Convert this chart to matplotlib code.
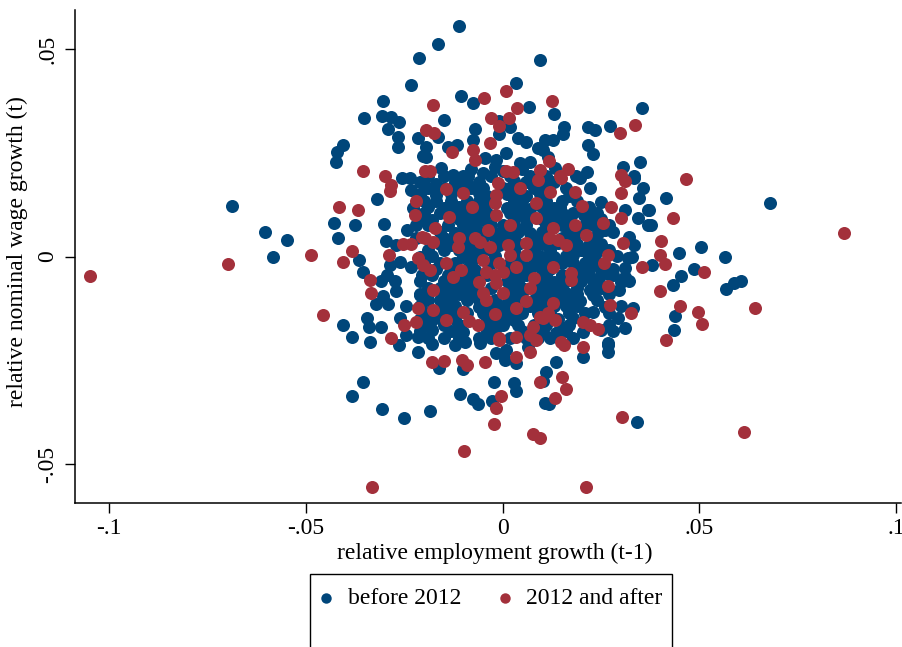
import numpy as np
import matplotlib
matplotlib.use("Agg")
import matplotlib.pyplot as plt
from matplotlib.patches import Rectangle

# (relative employment growth t-1, relative nominal wage growth t)
before_2012 = [
    (-0.0687, 0.0123), (-0.0603, 0.0060), (-0.0549, 0.0039), (-0.0585, 0.0000),
    (0.0416, 0.0141), (0.0680, 0.0129), (0.0373, 0.0113), (0.0378, 0.0076), (0.0505, 0.0023),
    (0.0448, 0.0008), (0.0566, -0.0002), (0.0380, -0.0020), (0.0486, -0.0030), (0.0454, -0.0046),
    (0.0434, -0.0068), (0.0568, -0.0079), (0.0589, -0.0064), (0.0606, -0.0060), (0.0439, -0.0142),
    (0.0437, -0.0177),
    (-0.0111, 0.0556), (-0.0164, 0.0513), (0.0096, 0.0474), (-0.0213, 0.0478), (-0.0233, 0.0414),
    (-0.0305, 0.0374), (-0.0353, 0.0334), (-0.0306, 0.0339), (-0.0285, 0.0337), (-0.0263, 0.0325),
    (-0.0291, 0.0307), (-0.0267, 0.0289), (-0.0215, 0.0285), (-0.0267, 0.0263), (-0.0202, 0.0243),
    (-0.0406, 0.0269), (-0.0422, 0.0253), (-0.0424, 0.0227), (-0.0257, 0.0190), (-0.0236, 0.0189),
    (0.0035, 0.0418), (-0.0107, 0.0386), (-0.0074, 0.0370), (0.0067, 0.0361), (-0.0150, 0.0329),
    (-0.0008, 0.0327), (0.0020, 0.0313), (-0.0010, 0.0296), (-0.0164, 0.0289), (-0.0071, 0.0307),
    (-0.0074, 0.0281), (-0.0196, 0.0265), (-0.0116, 0.0269), (-0.0139, 0.0265), (-0.0196, 0.0241),
    (-0.0046, 0.0237), (0.0039, 0.0285), (0.0060, 0.0277), (0.0090, 0.0261), (0.0009, 0.0249),
    (-0.0016, 0.0233), (0.0043, 0.0225), (0.0069, 0.0229), (-0.0156, 0.0213), (-0.0126, 0.0197),
    (-0.0088, 0.0193), (-0.0050, 0.0201), (-0.0020, 0.0217),
    (0.0130, 0.0343), (0.0355, 0.0357), (0.0273, 0.0315), (0.0155, 0.0312), (0.0153, 0.0296),
    (0.0218, 0.0313), (0.0234, 0.0304), (0.0218, 0.0269), (0.0229, 0.0247), (0.0128, 0.0281),
    (0.0107, 0.0281), (0.0102, 0.0257), (0.0115, 0.0241), (0.0132, 0.0213), (0.0187, 0.0193),
    (0.0214, 0.0203), (0.0350, 0.0227), (0.0306, 0.0215), (0.0333, 0.0193),
    (-0.0319, 0.0139), (-0.0232, 0.0161), (-0.0429, 0.0080), (-0.0376, 0.0076), (-0.0302, 0.0079),
    (-0.0228, 0.0117), (-0.0418, 0.0044), (-0.0297, 0.0038), (-0.0243, 0.0064), (-0.0270, 0.0028),
    (-0.0365, -0.0008), (-0.0356, -0.0036), (-0.0287, -0.0020), (-0.0262, -0.0014), (-0.0232, -0.0024),
    (-0.0206, -0.0044), (-0.0295, -0.0044), (-0.0308, -0.0060), (-0.0274, -0.0060), (-0.0270, -0.0084),
    (-0.0304, -0.0096), (-0.0321, -0.0115), (-0.0291, -0.0115), (-0.0245, -0.0120), (-0.0211, -0.0092),
    (-0.0407, -0.0165), (-0.0346, -0.0147), (-0.0340, -0.0169), (-0.0308, -0.0169), (-0.0262, -0.0148),
    (-0.0384, -0.0193), (-0.0338, -0.0205), (-0.0245, -0.0189), (-0.0215, -0.0193),
    (-0.0263, -0.0213), (-0.0215, -0.0231), (-0.0355, -0.0301), (-0.0383, -0.0337), (-0.0306, -0.0367),
    (-0.0251, -0.0389),
    (-0.0162, -0.0269), (-0.0101, -0.0271), (-0.0096, -0.0205), (-0.0058, -0.0209), (-0.0016, -0.0233),
    (0.0008, -0.0225), (0.0005, -0.0249), (0.0035, -0.0257), (0.0064, -0.0217), (-0.0023, -0.0301),
    (0.0028, -0.0305), (0.0033, -0.0325), (-0.0109, -0.0331), (-0.0074, -0.0344), (-0.0063, -0.0355),
    (-0.0026, -0.0349), (-0.0184, -0.0373), (0.0107, -0.0353),
    (0.0204, -0.0241), (0.0267, -0.0213), (0.0267, -0.0229), (0.0135, -0.0253), (0.0111, -0.0277),
    (0.0119, -0.0355), (0.0341, -0.0398), (0.0104, -0.0300),
    (0.0196, 0.0189), (0.0335, 0.0189), (0.0107, 0.0149), (0.0170, 0.0145), (0.0221, 0.0165),
    (0.0356, 0.0165), (0.0348, 0.0141), (0.0251, 0.0131), (0.0145, 0.0120), (0.0310, 0.0113),
    (0.0369, 0.0113), (0.0344, 0.0093), (0.0369, 0.0076), (0.0208, 0.0099), (0.0229, 0.0076),
    (0.0246, 0.0060), (0.0322, 0.0048), (0.0335, 0.0028), (0.0318, -0.0004), (0.0204, 0.0016),
    (0.0179, 0.0004), (0.0234, 0.0004), (0.0213, -0.0036), (0.0246, -0.0052), (0.0273, -0.0044),
    (0.0310, -0.0048), (0.0322, -0.0060), (0.0297, -0.0080), (0.0221, -0.0080), (0.0196, -0.0108),
    (0.0229, -0.0134), (0.0331, -0.0124), (0.0293, -0.0147), (0.0310, -0.0173), (0.0204, -0.0181),
    (0.0267, -0.0209), (0.0157, -0.0173), (0.0136, -0.0185), (0.0102, -0.0181),
    (-0.008, 0.021), (0.000, 0.0205), (0.005, 0.021),
    (-0.021, 0.018), (-0.017, 0.0175), (-0.012, 0.018), (-0.009, 0.0178), (-0.006, 0.018),
    (0.003, 0.0182), (0.006, 0.018), (0.010, 0.0178), (0.013, 0.018),
    (-0.021, 0.015), (-0.017, 0.0148), (-0.013, 0.015), (-0.006, 0.0152), (-0.004, 0.0145),
    (0.001, 0.015), (0.004, 0.0148), (0.006, 0.0145), (0.0095, 0.015),
    (-0.019, 0.012), (-0.015, 0.0118), (-0.011, 0.012), (-0.005, 0.0122), (0.001, 0.0118),
    (0.004, 0.012), (0.007, 0.0115), (0.010, 0.012), (0.013, 0.0118), (0.022, 0.012),
    (-0.021, 0.009), (-0.018, 0.0088), (-0.011, 0.009), (-0.008, 0.0092), (-0.005, 0.0088),
    (0.003, 0.009), (0.006, 0.0088), (0.010, 0.009), (0.013, 0.0092), (0.017, 0.009),
    (0.023, 0.0095), (0.025, 0.009),
    (-0.016, 0.006), (-0.012, 0.0058), (-0.009, 0.0062), (-0.006, 0.006), (-0.001, 0.0058),
    (0.001, 0.0062), (0.004, 0.006), (0.007, 0.0058), (0.010, 0.006), (0.017, 0.0062),
    (0.020, 0.006), (0.026, 0.0065), (0.028, 0.006),
    (-0.016, 0.003), (-0.013, 0.0028), (-0.009, 0.0032), (-0.007, 0.003), (-0.001, 0.0028),
    (0.004, 0.003), (0.008, 0.0028), (0.010, 0.003), (0.014, 0.0032), (0.019, 0.003),
    (0.022, 0.0028), (0.025, 0.003),
    (-0.021, 0.000), (-0.018, 0.0002), (-0.010, 0.000), (-0.007, -0.0002), (-0.002, 0.0002),
    (0.004, 0.000), (0.009, 0.0002), (0.010, -0.0002), (0.013, 0.000), (0.016, 0.0002),
    (0.022, 0.000), (0.029, 0.0002), (0.033, 0.000),
    (-0.017, -0.003), (-0.013, -0.0028), (-0.009, -0.003), (-0.007, -0.0032), (0.002, -0.003),
    (0.004, -0.0028), (0.007, -0.003), (0.010, -0.0032), (0.012, -0.003), (0.019, -0.0028),
    (0.022, -0.003), (0.025, -0.0032), (0.028, -0.003), (0.031, -0.0028),
    (-0.021, -0.006), (-0.015, -0.0058), (-0.012, -0.006), (-0.009, -0.0062), (0.001, -0.006),
    (0.004, -0.0058), (0.010, -0.006), (0.013, -0.0062), (0.016, -0.006), (0.020, -0.0058),
    (0.023, -0.006), (0.030, -0.0062),
    (-0.021, -0.009), (-0.015, -0.0092), (-0.011, -0.009), (-0.008, -0.0088), (-0.007, -0.0095),
    (0.003, -0.009), (0.005, -0.0088), (0.009, -0.009), (0.010, -0.0092), (0.013, -0.009),
    (0.016, -0.0088), (0.019, -0.009), (0.023, -0.0092), (0.027, -0.009),
    (-0.021, -0.012), (-0.015, -0.0118), (-0.012, -0.012), (-0.006, -0.0122), (-0.003, -0.012),
    (0.000, -0.0118), (0.007, -0.012), (0.010, -0.0122), (0.013, -0.012), (0.016, -0.0118),
    (0.019, -0.012), (0.026, -0.0122), (0.030, -0.012),
    (-0.021, -0.015), (-0.018, -0.0152), (-0.016, -0.0148), (-0.012, -0.015), (-0.004, -0.015),
    (-0.002, -0.0148), (0.001, -0.015), (0.003, -0.0152), (0.014, -0.015), (0.018, -0.0148),
    (-0.021, -0.018), (-0.018, -0.0178), (-0.013, -0.018), (-0.010, -0.0182), (-0.004, -0.018),
    (-0.002, -0.0178), (0.005, -0.018), (0.010, -0.018), (0.014, -0.0182), (0.016, -0.018),
    (0.025, -0.0178), (0.028, -0.018),
    (-0.018, -0.021), (-0.012, -0.0212),
    # densest part of the cloud
    (-0.019, 0.0195), (-0.015, 0.0195), (-0.010, 0.0195), (-0.003, 0.0195), (0.002, 0.0195),
    (0.007, 0.0195), (0.011, 0.0195),
    (-0.019, 0.0165), (-0.015, 0.0165), (-0.011, 0.0165), (-0.008, 0.0165), (-0.005, 0.0165),
    (0.000, 0.0165), (0.002, 0.0165), (0.008, 0.0165), (0.011, 0.0165), (0.016, 0.0165),
    (-0.020, 0.0135), (-0.017, 0.0135), (-0.013, 0.0135), (-0.009, 0.0135), (-0.006, 0.0135),
    (-0.003, 0.0135), (0.003, 0.0135), (0.005, 0.0135), (0.011, 0.0135), (0.015, 0.0135),
    (0.019, 0.0135),
    (-0.020, 0.0105), (-0.016, 0.0105), (-0.013, 0.0105), (-0.009, 0.0105), (-0.007, 0.0105),
    (-0.004, 0.0105), (0.002, 0.0105), (0.005, 0.0105), (0.012, 0.0105), (0.015, 0.0105),
    (0.018, 0.0105), (0.024, 0.0105),
    (-0.022, 0.0075), (-0.019, 0.0075), (-0.014, 0.0075), (-0.010, 0.0075), (-0.007, 0.0075),
    (-0.003, 0.0075), (0.000, 0.0075), (0.003, 0.0075), (0.006, 0.0075), (0.011, 0.0075),
    (0.015, 0.0075), (0.021, 0.0075), (0.027, 0.0075),
    (-0.022, 0.0045), (-0.015, 0.0045), (-0.012, 0.0045), (-0.008, 0.0045), (-0.005, 0.0045),
    (-0.002, 0.0045), (0.001, 0.0045), (0.003, 0.0045), (0.009, 0.0045), (0.015, 0.0045),
    (0.018, 0.0045), (0.023, 0.0045),
    (-0.019, 0.0015), (-0.015, 0.0015), (-0.011, 0.0015), (-0.008, 0.0015), (-0.005, 0.0015),
    (-0.003, 0.0015), (0.003, 0.0015), (0.008, 0.0015), (0.012, 0.0015), (0.017, 0.0015),
    (0.020, 0.0015), (0.024, 0.0015), (0.027, 0.0015),
    (-0.020, -0.0015), (-0.016, -0.0015), (-0.012, -0.0015), (-0.008, -0.0015), (-0.003, -0.0015),
    (0.002, -0.0015), (0.005, -0.0015), (0.008, -0.0015), (0.011, -0.0015), (0.015, -0.0015),
    (0.018, -0.0015), (0.021, -0.0015), (0.024, -0.0015),
    (-0.018, -0.0045), (-0.014, -0.0045), (-0.010, -0.0045), (-0.007, -0.0045), (-0.004, -0.0045),
    (0.003, -0.0045), (0.006, -0.0045), (0.011, -0.0045), (0.015, -0.0045), (0.019, -0.0045),
    (0.022, -0.0045), (0.028, -0.0045),
    (-0.019, -0.0075), (-0.016, -0.0075), (-0.013, -0.0075), (-0.010, -0.0075), (-0.007, -0.0075),
    (-0.003, -0.0075), (0.002, -0.0075), (0.005, -0.0075), (0.009, -0.0075), (0.012, -0.0075),
    (0.015, -0.0075), (0.019, -0.0075), (0.025, -0.0075),
    (-0.019, -0.0105), (-0.016, -0.0105), (-0.013, -0.0105), (-0.009, -0.0105), (-0.006, -0.0105),
    (-0.002, -0.0105), (0.002, -0.0105), (0.005, -0.0105), (0.008, -0.0105), (0.012, -0.0105),
    (0.015, -0.0105), (0.018, -0.0105), (0.024, -0.0105),
    (-0.019, -0.0135), (-0.016, -0.0135), (-0.013, -0.0135), (-0.009, -0.0135), (-0.005, -0.0135),
    (-0.001, -0.0135), (0.002, -0.0135), (0.005, -0.0135), (0.009, -0.0135), (0.012, -0.0135),
    (0.017, -0.0135), (0.021, -0.0135), (0.027, -0.0135),
    (-0.019, -0.0165), (-0.015, -0.0165), (-0.011, -0.0165), (-0.003, -0.0165), (0.000, -0.0165),
    (0.004, -0.0165), (0.008, -0.0165), (0.011, -0.0165), (0.017, -0.0165), (0.027, -0.0165),
    (-0.019, -0.0195), (-0.015, -0.0195), (-0.011, -0.0195), (-0.006, -0.0195), (-0.003, -0.0195),
    (0.002, -0.0195), (0.006, -0.0195), (0.009, -0.0195), (0.012, -0.0195), (0.018, -0.0195),
]

after_2012 = [
    (-0.1049, -0.0047), (-0.0698, -0.0017), (-0.0488, 0.0005),
    (0.0466, 0.0187), (0.0434, 0.0092), (0.0868, 0.0058), (0.0403, 0.0038), (0.0401, 0.0004),
    (0.0414, -0.0018), (0.0511, -0.0038), (0.0401, -0.0083), (0.0452, -0.0120), (0.0498, -0.0133),
    (0.0641, -0.0125), (0.0507, -0.0162), (0.0416, -0.0201), (0.0615, -0.0422),
    (0.0211, -0.0555), (-0.0333, -0.0555), (-0.0099, -0.0469),
    (-0.0196, 0.0304), (-0.0356, 0.0205), (-0.0300, 0.0195), (-0.0198, 0.0205),
    (0.0008, 0.0398), (-0.0047, 0.0381), (-0.0177, 0.0364), (0.0037, 0.0358), (-0.0030, 0.0335),
    (0.0016, 0.0333), (-0.0010, 0.0315), (-0.0175, 0.0297), (-0.0033, 0.0273), (-0.0129, 0.0252),
    (-0.0075, 0.0257), (-0.0071, 0.0233), (0.0008, 0.0205), (0.0026, 0.0203), (0.0094, 0.0209),
    (-0.0185, 0.0207),
    (0.0126, 0.0375), (0.0337, 0.0317), (0.0299, 0.0297), (0.0118, 0.0231), (0.0166, 0.0211),
    (0.0147, 0.0193), (0.0301, 0.0197),
    (-0.0287, 0.0157), (-0.0283, 0.0173), (-0.0219, 0.0134), (-0.0416, 0.0119), (-0.0367, 0.0113),
    (-0.0223, 0.0099), (-0.0253, 0.0030), (-0.0232, 0.0030), (-0.0204, 0.0048), (-0.0382, 0.0014),
    (-0.0407, -0.0012), (-0.0289, 0.0004), (-0.0215, -0.0004), (-0.0338, -0.0056), (-0.0335, -0.0088),
    (-0.0215, -0.0123), (-0.0456, -0.0140), (-0.0251, -0.0165), (-0.0219, -0.0157), (-0.0283, -0.0197),
    (-0.0179, -0.0255), (-0.0150, -0.0251), (-0.0102, -0.0249), (-0.0091, -0.0261), (-0.0046, -0.0254),
    (-0.0008, -0.0201), (0.0035, -0.0241), (0.0069, -0.0231), (0.0086, -0.0201), (0.0094, -0.0301),
    (-0.0003, -0.0335), (-0.0018, -0.0364), (-0.0023, -0.0404), (0.0077, -0.0428), (0.0094, -0.0436),
    (0.0155, -0.0213), (0.0204, -0.0218), (0.0152, -0.0289), (0.0160, -0.0319), (0.0132, -0.0341),
    (0.0304, -0.0387),
    (0.0149, 0.0189), (0.0312, 0.0181), (0.0121, 0.0155), (0.0183, 0.0155), (0.0301, 0.0153),
    (0.0276, 0.0120), (0.0202, 0.0122), (0.0300, 0.0094), (0.0185, 0.0076), (0.0255, 0.0080),
    (0.0128, 0.0068), (0.0119, 0.0044), (0.0140, 0.0040), (0.0162, 0.0028), (0.0213, 0.0052),
    (0.0306, 0.0032), (0.0267, 0.0004), (0.0259, -0.0016), (0.0355, -0.0024), (0.0128, -0.0026),
    (0.0174, -0.0040), (0.0174, -0.0056), (0.0267, -0.0070), (0.0272, -0.0116), (0.0327, -0.0136),
    (0.0204, -0.0157), (0.0221, -0.0165), (0.0242, -0.0174), (0.0149, -0.0205), (0.0128, -0.0112),
    (0.0115, -0.0136), (0.0132, -0.0153), (0.0102, -0.0148),
    (-0.0143, 0.0163), (-0.0101, 0.0153), (-0.0012, 0.0177), (-0.0016, 0.0149), (0.0043, 0.0165),
    (-0.0020, 0.0129), (-0.0077, 0.0120), (-0.0136, 0.0096), (-0.0016, 0.0100), (0.0018, 0.0076),
    (0.0086, 0.0129), (0.0084, 0.0093), (-0.0173, 0.0068), (-0.0037, 0.0064), (-0.0198, 0.0044),
    (-0.0177, 0.0036), (-0.0111, 0.0044), (-0.0071, 0.0044), (-0.0114, 0.0024), (-0.0058, 0.0036),
    (-0.0033, 0.0024), (0.0013, 0.0028), (0.0060, 0.0032), (0.0060, 0.0004), (0.0018, 0.0004),
    (-0.0050, -0.0008), (-0.0008, -0.0016), (-0.0202, -0.0020), (-0.0185, -0.0032), (-0.0143, -0.0016),
    (-0.0105, -0.0032), (-0.0126, -0.0048), (-0.0041, -0.0036), (-0.0020, -0.0044), (0.0001, -0.0036),
    (0.0035, -0.0024), (0.0081, -0.0052), (-0.0060, -0.0062), (-0.0016, -0.0064), (0.0001, -0.0088),
    (0.0069, -0.0076), (-0.0050, -0.0088), (-0.0041, -0.0104), (0.0060, -0.0107), (0.0035, -0.0124),
    (-0.0177, -0.0080), (-0.0177, -0.0128), (-0.0101, -0.0133), (-0.0143, -0.0153), (-0.0086, -0.0155),
    (-0.0063, -0.0166), (-0.0020, -0.0139), (-0.0008, -0.0195), (0.0035, -0.0193), (0.0069, -0.0189),
    (0.0077, -0.0169), (0.0094, -0.0145), (0.0090, 0.0185),
]

series_labels = ["before 2012", "2012 and after"]
x_ticks = [-0.1, -0.05, 0, 0.05, 0.1]
x_tick_labels = ["-.1", "-.05", "0", ".05", ".1"]
y_ticks = [-0.05, 0, 0.05]
y_tick_labels = ["-.05", "0", ".05"]

BLUE = "#00467a"
RED = "#a3303b"

plt.rcParams["font.family"] = ["Liberation Serif", "DejaVu Serif"]

fig = plt.figure(figsize=(9.02, 6.47), dpi=100)
ax = fig.add_axes([0.0828, 0.2230, 0.9161, 0.7615])

bx, by = zip(*before_2012)
rx, ry = zip(*after_2012)
h1 = ax.scatter(bx, by, s=88, color=BLUE, linewidths=0, zorder=2)
h2 = ax.scatter(rx, ry, s=88, color=RED, linewidths=0, zorder=3)

ax.set_xlim(-0.1088, 0.1013)
ax.set_ylim(-0.0593, 0.0594)

for side in ("top", "right"):
    ax.spines[side].set_visible(False)
for side in ("left", "bottom"):
    ax.spines[side].set_linewidth(1.1)

ax.set_xticks(x_ticks)
ax.set_xticklabels(x_tick_labels)
ax.set_yticks(y_ticks)
ax.set_yticklabels(y_tick_labels, rotation=90, va="center")
ax.tick_params(axis="both", length=7, width=1.0, labelsize=17)
ax.tick_params(axis="x", pad=4)
ax.tick_params(axis="y", pad=5)

ax.set_xlabel("relative employment growth (t-1)", fontsize=17)
ax.set_ylabel("relative nominal wage growth (t)", fontsize=17)
ax.xaxis.set_label_coords(0.508, -0.081)
ax.yaxis.set_label_coords(-0.056, 0.509)

# legend box, open at the bottom edge of the figure
fig.patches.append(Rectangle((310 / 902, -0.05), 362 / 902, 1 - 574 / 647 + 0.05,
                             transform=fig.transFigure, fill=False,
                             edgecolor="black", linewidth=1.0))
fig.legend([h1, h2], series_labels, loc="center left",
           bbox_to_anchor=(317 / 902, 1 - 598 / 647), ncol=2, frameon=False,
           fontsize=17, markerscale=0.8, handlelength=0.8, handletextpad=0.5,
           columnspacing=1.45, borderpad=0, borderaxespad=0)

fig.savefig("out.png", dpi=100)
